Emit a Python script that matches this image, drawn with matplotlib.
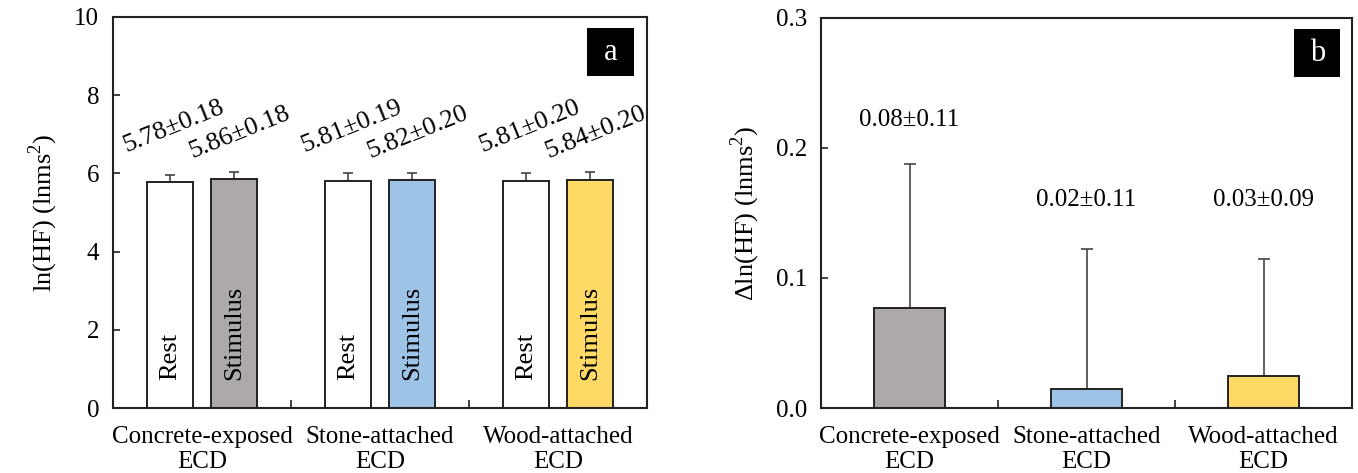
import matplotlib
matplotlib.use("Agg")
import matplotlib.pyplot as plt
from matplotlib.patches import Rectangle
import numpy as np

plt.rcParams['font.family'] = ['Liberation Serif', 'DejaVu Serif']
plt.rcParams['mathtext.fontset'] = 'custom'
plt.rcParams['mathtext.rm'] = 'Liberation Serif'

categories = ["Concrete-exposed\nECD", "Stone-attached\nECD", "Wood-attached\nECD"]
rest_means = [5.78, 5.81, 5.81]
rest_sd = [0.18, 0.19, 0.20]
stim_means = [5.86, 5.82, 5.84]
stim_sd = [0.18, 0.20, 0.20]
rest_labels = ["5.78±0.18", "5.81±0.19", "5.81±0.20"]
stim_labels = ["5.86±0.18", "5.82±0.20", "5.84±0.20"]
stim_colors = ["#ADA9A8", "#9DC3E6", "#FFD966"]

delta_means = [0.077, 0.015, 0.025]
delta_sd = [0.111, 0.107, 0.090]
delta_labels = ["0.08±0.11", "0.02±0.11", "0.03±0.09"]

FS_TICK = 18
FS_CAT = 18
FS_VAL = 18
FS_ROT = 19
FS_BAR = 19
FS_YLAB = 19

fig = plt.figure(figsize=(13.58, 4.73), dpi=100)
axA = fig.add_axes([113/1358, 65/473, 534/1358, 391/473])
axB = fig.add_axes([821/1358, 65/473, 531/1358, 390/473])

x = np.arange(len(categories))
edge = '#222222'
ecol = '#444444'

# Panel a
off = 0.18
w = 0.26
axA.bar(x - off, rest_means, w, color='white', edgecolor=edge, linewidth=1.4, zorder=2)
axA.bar(x + off, stim_means, w, color=stim_colors, edgecolor=edge, linewidth=1.4, zorder=2)
axA.errorbar(x - off, rest_means, yerr=[np.zeros(3), rest_sd], fmt='none', ecolor=ecol,
             elinewidth=1.2, capsize=3.5, capthick=1.2, zorder=1)
axA.errorbar(x + off, stim_means, yerr=[np.zeros(3), stim_sd], fmt='none', ecolor=ecol,
             elinewidth=1.2, capsize=3.5, capthick=1.2, zorder=1)
for i in range(3):
    axA.text(x[i] - off + 0.02, 7.2, rest_labels[i], rotation=22, rotation_mode='anchor',
             ha='center', va='center', fontsize=FS_ROT)
    axA.text(x[i] + off + 0.03, 7.05, stim_labels[i], rotation=22, rotation_mode='anchor',
             ha='center', va='center', fontsize=FS_ROT)
    axA.text(x[i] - off, 0.72, "Rest", rotation=90, ha='center', va='bottom', fontsize=FS_BAR, zorder=3)
    axA.text(x[i] + off, 0.72, "Stimulus", rotation=90, ha='center', va='bottom', fontsize=FS_BAR, zorder=3)
axA.set_ylim(0, 10)
axA.set_yticks([0, 2, 4, 6, 8, 10])
axA.set_ylabel("ln(HF) (lnms$^2$)", fontsize=FS_YLAB, labelpad=10)

# Panel b
wb = 0.40
axB.bar(x, delta_means, wb, color=stim_colors, edgecolor=edge, linewidth=1.4, zorder=2)
axB.errorbar(x, delta_means, yerr=[np.zeros(3), delta_sd], fmt='none', ecolor=ecol,
             elinewidth=1.2, capsize=4, capthick=1.2, zorder=1)
label_y = [0.2215, 0.16, 0.16]
for i in range(3):
    axB.text(x[i], label_y[i], delta_labels[i], ha='center', va='center', fontsize=FS_VAL)
axB.set_ylim(0, 0.3)
axB.set_yticks([0.0, 0.1, 0.2, 0.3])
axB.set_yticklabels(["0.0", "0.1", "0.2", "0.3"])
axB.set_ylabel("Δln(HF) (lnms$^2$)", fontsize=FS_YLAB, labelpad=10)

for ax, lab, x0 in ((axA, "a", 0.888), (axB, "b", 0.891)):
    ax.set_xlim(-0.5, 2.5)
    ax.set_xticks(x)
    ax.set_xticklabels(categories, fontsize=FS_CAT, linespacing=1.15)
    ax.set_xticks([0.5, 1.5], minor=True)
    ax.tick_params(axis='x', which='major', length=0, pad=13)
    ax.tick_params(axis='x', which='minor', direction='in', length=6, width=1.2, color=edge)
    ax.tick_params(axis='y', direction='in', length=5, width=1.2, color=edge, labelsize=FS_TICK, pad=10)
    for s in ax.spines.values():
        s.set_linewidth(1.5)
        s.set_color('#222222')
    ax.add_patch(Rectangle((x0, 0.849), 0.087, 0.123, transform=ax.transAxes,
                           facecolor='black', edgecolor='none', zorder=5))
    ax.text(x0 + 0.0435, 0.908, lab, transform=ax.transAxes, color='white',
            ha='center', va='center', fontsize=22, zorder=6)

fig.savefig("out.png", dpi=100)
